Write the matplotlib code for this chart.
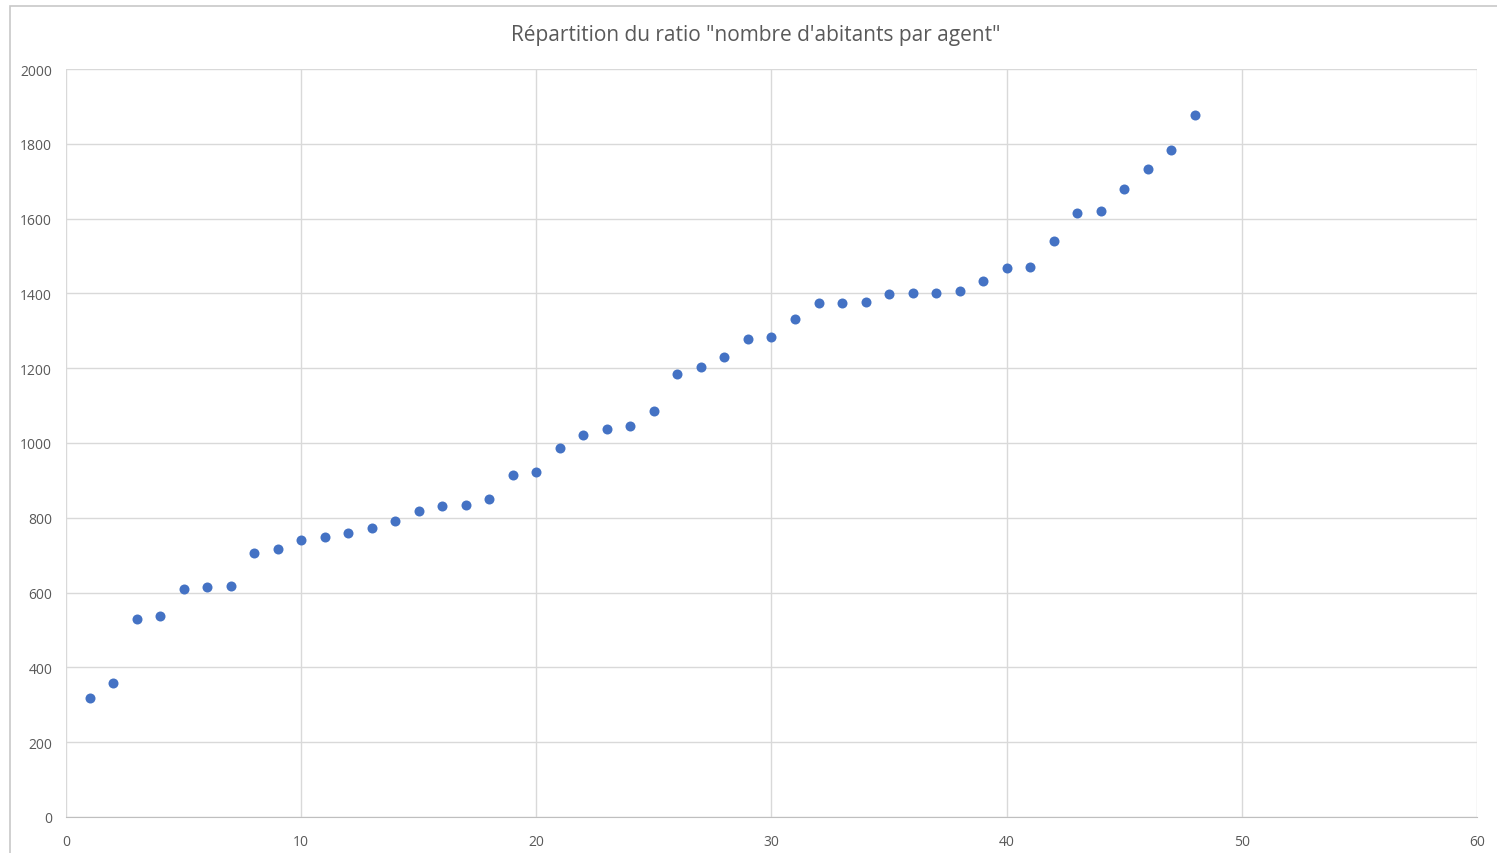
import numpy as np
import matplotlib.pyplot as plt
from matplotlib.patches import Rectangle

# rank of each agent and its ratio
rang = list(range(1, 49))
ratio = [318, 358, 529, 537, 610, 615, 618, 706, 717, 741,
         749, 759, 773, 791, 818, 832, 834, 850, 914, 922,
         987, 1021, 1037, 1045, 1086, 1184, 1203, 1230, 1278, 1283,
         1332, 1374, 1374, 1377, 1398, 1401, 1401, 1406, 1433, 1468,
         1471, 1540, 1615, 1620, 1679, 1733, 1783, 1877]

x_ticks = [0, 10, 20, 30, 40, 50, 60]
y_ticks = [0, 200, 400, 600, 800, 1000, 1200, 1400, 1600, 1800, 2000]
title = 'Répartition du ratio "nombre d\'abitants par agent"'

plt.rcParams['font.family'] = ['Open Sans', 'DejaVu Sans']

fig = plt.figure(figsize=(14.97, 8.54), dpi=100)
ax = fig.add_axes([0.0441, 0.0422, 0.9425, 0.8758])

# outer chart border like excel
fig.patches.append(Rectangle((10 / 1497, -0.1), 1.2, 1 - 7 / 854 + 0.1,
                             transform=fig.transFigure, fill=False,
                             edgecolor='#c8c8c8', linewidth=1.2))

ax.scatter(rang, ratio, s=52, color='#4472C4', zorder=3, linewidths=0)

ax.set_xlim(0, 60)
ax.set_ylim(0, 2000)
ax.set_xticks(x_ticks)
ax.set_yticks(y_ticks)
ax.grid(True, color='#d9d9d9', linewidth=1)
ax.set_axisbelow(True)
for s in ['top', 'right', 'left']:
    ax.spines[s].set_visible(False)
ax.spines['bottom'].set_color('#bfbfbf')
ax.tick_params(length=0, labelsize=10, colors='#595959', pad=12)
ax.tick_params(axis='y', pad=10)

fig.text(756 / 1497, 1 - 35 / 854, title, ha='center', va='center',
         fontsize=15, color='#595959')

plt.savefig('out.png', dpi=100)
